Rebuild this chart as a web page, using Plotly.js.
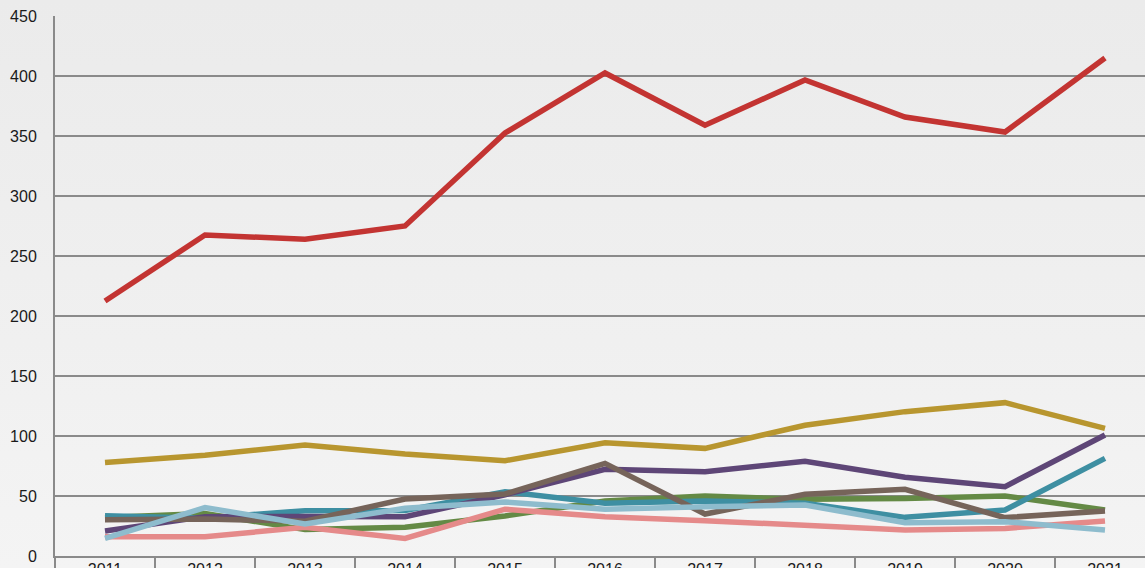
<!DOCTYPE html>
<html>
<head>
<meta charset="utf-8">
<script src="https://cdn.plot.ly/plotly-3.0.1.min.js"></script>
<style>
  html, body { margin: 0; padding: 0; }
  body { width: 1145px; height: 568px; overflow: hidden;
         background: linear-gradient(to bottom, #ebebeb 0%, #f0f0f0 60%, #f4f4f4 100%); }
  #chart { width: 1145px; height: 568px; }
</style>
</head>
<body>
<div id="chart"></div>
<script>
const years = ['2011','2012','2013','2014','2015','2016','2017','2018','2019','2020','2021'];

const seriesGreen     = [32, 35.5, 22, 24, 33.3, 45.8, 50, 47.2, 48, 50, 38.3];
const seriesTeal      = [33.6, 31.5, 37.8, 38, 53.6, 43.9, 45.8, 44, 32.2, 38.3, 81.4];
const seriesPurple    = [20.8, 32.8, 33, 32.8, 51, 72.2, 70.3, 79, 65.6, 57.8, 100.8];
const seriesBrown     = [30.3, 30.8, 29, 47.5, 51.7, 77.2, 35, 51.4, 55.6, 32, 37.5];
const seriesPink      = [16, 16, 24, 14.7, 39, 32.8, 29.4, 25.5, 21.7, 23, 29.2];
const seriesLightBlue = [14.7, 40.3, 26.7, 39.7, 45, 38.9, 41, 42.5, 27.8, 28.6, 21.7];
const seriesGold      = [78, 84, 92.5, 85, 79.4, 94.4, 89.7, 109, 120.3, 127.8, 106.4];
const seriesRed       = [212.5, 267.5, 264, 275, 352.5, 402.5, 359, 396.7, 365.8, 353.3, 415];

const yTicks = [0, 50, 100, 150, 200, 250, 300, 350, 400, 450];

const defs = [
  {name: 'Series 1', y: seriesGreen, color: '#648a45'},
  {name: 'Series 2', y: seriesTeal, color: '#3e8fa2'},
  {name: 'Series 3', y: seriesPurple, color: '#5e4677'},
  {name: 'Series 4', y: seriesBrown, color: '#76645a'},
  {name: 'Series 5', y: seriesPink, color: '#e58a8a'},
  {name: 'Series 6', y: seriesLightBlue, color: '#8ebccd'},
  {name: 'Series 7', y: seriesGold, color: '#b8962f'},
  {name: 'Series 8', y: seriesRed, color: '#c33432'}
];

const traces = defs.map(d => ({
  type: 'scatter', mode: 'lines', name: d.name,
  x: years, y: d.y,
  line: {color: d.color, width: 5.5},
  hoverinfo: 'x+y'
}));

const layout = {
  width: 1145, height: 568,
  margin: {l: 55, r: 0, t: 16, b: 12, pad: 0},
  paper_bgcolor: 'rgba(0,0,0,0)',
  plot_bgcolor: 'rgba(0,0,0,0)',
  showlegend: false,
  font: {family: 'Liberation Sans, Arial, sans-serif', size: 16, color: '#1a1a1a'},
  xaxis: {
    type: 'category',
    range: [-0.5, 10.4],
    showgrid: false,
    showline: true, linecolor: '#8a8a8a', linewidth: 2,
    ticks: 'outside', tickson: 'boundaries', ticklen: 20, tickwidth: 2, tickcolor: '#8a8a8a',
    ticklabelstandoff: -2,
    tickfont: {size: 16, color: '#1a1a1a'},
    fixedrange: true
  },
  yaxis: {
    range: [0, 450],
    tickvals: yTicks,
    ticktext: yTicks.map(String),
    showgrid: true, gridcolor: '#8a8a8a', gridwidth: 1.6,
    zeroline: false,
    showline: true, linecolor: '#8a8a8a', linewidth: 2,
    ticks: '', ticklabelstandoff: 13,
    tickfont: {size: 16, color: '#1a1a1a'},
    fixedrange: true
  }
};

Plotly.newPlot('chart', traces, layout, {displayModeBar: false, staticPlot: true});
</script>
</body>
</html>
